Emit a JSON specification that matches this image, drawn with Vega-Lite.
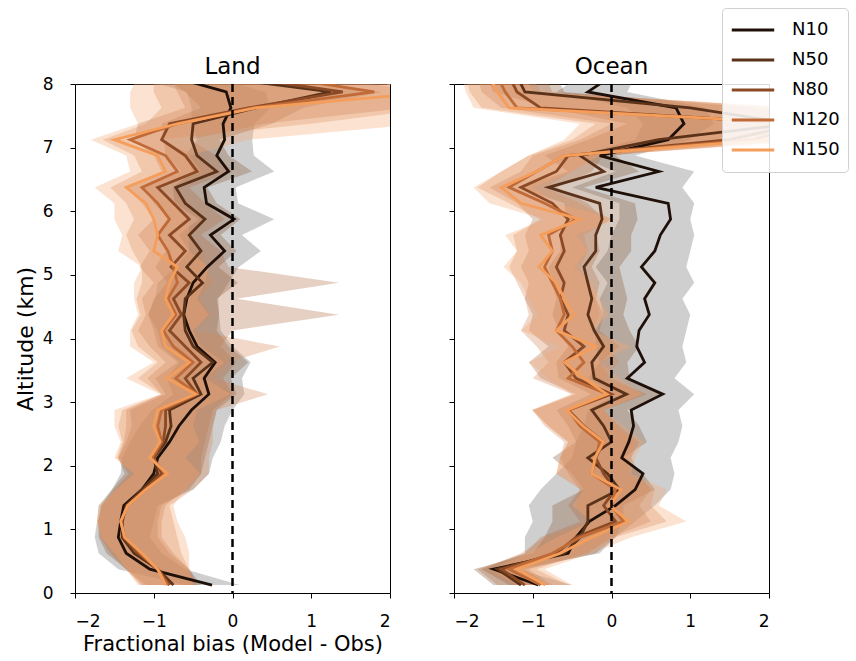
{
"$schema": "https://vega.github.io/schema/vega-lite/v6.json",
"padding": {"left": 13, "top": 7, "right": 5, "bottom": 5},
"config": {
  "font": "DejaVu Sans",
  "view": {"stroke": "black", "strokeWidth": 1},
  "axis": {"domain": false, "grid": false, "tickColor": "black", "tickSize": 5, "labelFontSize": 17, "labelColor": "black", "titleFontSize": 21, "titleFontWeight": "normal", "titleColor": "black", "labelPadding": 15, "format": "d"},
  "title": {"fontSize": 23, "fontWeight": "normal", "color": "black", "frame": "group"}
},
"datasets": {
"bias": [
{"panel":"Land","series":"N10","alt":0.125,"bias":-0.26,"lo":-0.61,"hi":0.09},
{"panel":"Land","series":"N10","alt":0.375,"bias":-1.05,"lo":-1.45,"hi":-0.60},
{"panel":"Land","series":"N10","alt":0.625,"bias":-1.35,"lo":-1.70,"hi":-0.90},
{"panel":"Land","series":"N10","alt":0.875,"bias":-1.45,"lo":-1.75,"hi":-1.05},
{"panel":"Land","series":"N10","alt":1.125,"bias":-1.42,"lo":-1.72,"hi":-1.00},
{"panel":"Land","series":"N10","alt":1.375,"bias":-1.38,"lo":-1.70,"hi":-0.95},
{"panel":"Land","series":"N10","alt":1.625,"bias":-1.15,"lo":-1.53,"hi":-0.50},
{"panel":"Land","series":"N10","alt":1.875,"bias":-1.00,"lo":-1.42,"hi":-0.30},
{"panel":"Land","series":"N10","alt":2.125,"bias":-0.95,"lo":-1.40,"hi":-0.25},
{"panel":"Land","series":"N10","alt":2.375,"bias":-0.80,"lo":-1.30,"hi":-0.15},
{"panel":"Land","series":"N10","alt":2.625,"bias":-0.68,"lo":-1.18,"hi":-0.10},
{"panel":"Land","series":"N10","alt":2.875,"bias":-0.52,"lo":-1.02,"hi":0.00},
{"panel":"Land","series":"N10","alt":3.125,"bias":-0.30,"lo":-0.75,"hi":0.15},
{"panel":"Land","series":"N10","alt":3.375,"bias":-0.36,"lo":-0.84,"hi":0.12},
{"panel":"Land","series":"N10","alt":3.625,"bias":-0.22,"lo":-0.67,"hi":0.23},
{"panel":"Land","series":"N10","alt":3.875,"bias":-0.45,"lo":-0.90,"hi":0.00},
{"panel":"Land","series":"N10","alt":4.125,"bias":-0.55,"lo":-0.95,"hi":-0.15},
{"panel":"Land","series":"N10","alt":4.375,"bias":-0.62,"lo":-1.07,"hi":-0.17},
{"panel":"Land","series":"N10","alt":4.625,"bias":-0.58,"lo":-0.98,"hi":-0.18},
{"panel":"Land","series":"N10","alt":4.875,"bias":-0.50,"lo":-0.95,"hi":-0.05},
{"panel":"Land","series":"N10","alt":5.125,"bias":-0.32,"lo":-0.72,"hi":0.08},
{"panel":"Land","series":"N10","alt":5.375,"bias":-0.10,"lo":-0.55,"hi":0.36},
{"panel":"Land","series":"N10","alt":5.625,"bias":-0.28,"lo":-0.68,"hi":0.12},
{"panel":"Land","series":"N10","alt":5.875,"bias":0.02,"lo":-0.43,"hi":0.53},
{"panel":"Land","series":"N10","alt":6.125,"bias":-0.33,"lo":-0.73,"hi":0.07},
{"panel":"Land","series":"N10","alt":6.375,"bias":-0.36,"lo":-0.76,"hi":0.04},
{"panel":"Land","series":"N10","alt":6.625,"bias":-0.05,"lo":-0.50,"hi":0.53},
{"panel":"Land","series":"N10","alt":6.875,"bias":-0.20,"lo":-0.60,"hi":0.27},
{"panel":"Land","series":"N10","alt":7.125,"bias":-0.10,"lo":-0.45,"hi":0.25},
{"panel":"Land","series":"N10","alt":7.375,"bias":-0.12,"lo":-0.52,"hi":0.28},
{"panel":"Land","series":"N10","alt":7.625,"bias":-0.02,"lo":-0.52,"hi":0.48},
{"panel":"Land","series":"N10","alt":7.875,"bias":-0.08,"lo":-0.58,"hi":0.42},
{"panel":"Land","series":"N10","alt":8.125,"bias":-0.80,"lo":-1.30,"hi":-0.30},
{"panel":"Land","series":"N50","alt":0.125,"bias":-0.75,"lo":-1.10,"hi":-0.40},
{"panel":"Land","series":"N50","alt":0.375,"bias":-0.95,"lo":-1.35,"hi":-0.55},
{"panel":"Land","series":"N50","alt":0.625,"bias":-1.25,"lo":-1.60,"hi":-0.80},
{"panel":"Land","series":"N50","alt":0.875,"bias":-1.40,"lo":-1.70,"hi":-0.95},
{"panel":"Land","series":"N50","alt":1.125,"bias":-1.40,"lo":-1.70,"hi":-0.95},
{"panel":"Land","series":"N50","alt":1.375,"bias":-1.35,"lo":-1.67,"hi":-0.90},
{"panel":"Land","series":"N50","alt":1.625,"bias":-1.15,"lo":-1.53,"hi":-0.55},
{"panel":"Land","series":"N50","alt":1.875,"bias":-0.95,"lo":-1.37,"hi":-0.40},
{"panel":"Land","series":"N50","alt":2.125,"bias":-1.00,"lo":-1.45,"hi":-0.35},
{"panel":"Land","series":"N50","alt":2.375,"bias":-0.85,"lo":-1.35,"hi":-0.30},
{"panel":"Land","series":"N50","alt":2.625,"bias":-0.78,"lo":-1.28,"hi":-0.25},
{"panel":"Land","series":"N50","alt":2.875,"bias":-0.80,"lo":-1.30,"hi":-0.20},
{"panel":"Land","series":"N50","alt":3.125,"bias":-0.40,"lo":-0.85,"hi":0.05},
{"panel":"Land","series":"N50","alt":3.375,"bias":-0.50,"lo":-0.98,"hi":-0.02},
{"panel":"Land","series":"N50","alt":3.625,"bias":-0.25,"lo":-0.70,"hi":0.20},
{"panel":"Land","series":"N50","alt":3.875,"bias":-0.50,"lo":-0.95,"hi":-0.05},
{"panel":"Land","series":"N50","alt":4.125,"bias":-0.60,"lo":-1.00,"hi":-0.20},
{"panel":"Land","series":"N50","alt":4.375,"bias":-0.62,"lo":-1.07,"hi":-0.17},
{"panel":"Land","series":"N50","alt":4.625,"bias":-0.60,"lo":-1.00,"hi":-0.20},
{"panel":"Land","series":"N50","alt":4.875,"bias":-0.38,"lo":-0.83,"hi":0.07},
{"panel":"Land","series":"N50","alt":5.125,"bias":-0.58,"lo":-0.98,"hi":-0.18},
{"panel":"Land","series":"N50","alt":5.375,"bias":-0.40,"lo":-0.85,"hi":0.05},
{"panel":"Land","series":"N50","alt":5.625,"bias":-0.55,"lo":-0.95,"hi":-0.15},
{"panel":"Land","series":"N50","alt":5.875,"bias":-0.35,"lo":-0.80,"hi":0.10},
{"panel":"Land","series":"N50","alt":6.125,"bias":-0.60,"lo":-1.00,"hi":-0.20},
{"panel":"Land","series":"N50","alt":6.375,"bias":-0.72,"lo":-1.12,"hi":-0.32},
{"panel":"Land","series":"N50","alt":6.625,"bias":-0.20,"lo":-0.65,"hi":0.25},
{"panel":"Land","series":"N50","alt":6.875,"bias":-0.45,"lo":-0.85,"hi":-0.05},
{"panel":"Land","series":"N50","alt":7.125,"bias":-0.52,"lo":-0.87,"hi":-0.17},
{"panel":"Land","series":"N50","alt":7.375,"bias":-0.50,"lo":-0.90,"hi":0.50},
{"panel":"Land","series":"N50","alt":7.625,"bias":0.30,"lo":-0.40,"hi":0.90},
{"panel":"Land","series":"N50","alt":7.875,"bias":1.25,"lo":-0.60,"hi":1.90},
{"panel":"Land","series":"N50","alt":8.125,"bias":-0.30,"lo":-0.90,"hi":0.30},
{"panel":"Land","series":"N80","alt":0.125,"bias":-0.80,"lo":-1.15,"hi":-0.45},
{"panel":"Land","series":"N80","alt":0.375,"bias":-0.95,"lo":-1.35,"hi":-0.55},
{"panel":"Land","series":"N80","alt":0.625,"bias":-1.20,"lo":-1.55,"hi":-0.75},
{"panel":"Land","series":"N80","alt":0.875,"bias":-1.38,"lo":-1.68,"hi":-0.90},
{"panel":"Land","series":"N80","alt":1.125,"bias":-1.41,"lo":-1.71,"hi":-0.90},
{"panel":"Land","series":"N80","alt":1.375,"bias":-1.34,"lo":-1.66,"hi":-0.85},
{"panel":"Land","series":"N80","alt":1.625,"bias":-1.12,"lo":-1.50,"hi":-0.60},
{"panel":"Land","series":"N80","alt":1.875,"bias":-0.90,"lo":-1.32,"hi":-0.40},
{"panel":"Land","series":"N80","alt":2.125,"bias":-1.00,"lo":-1.45,"hi":-0.40},
{"panel":"Land","series":"N80","alt":2.375,"bias":-0.88,"lo":-1.38,"hi":-0.35},
{"panel":"Land","series":"N80","alt":2.625,"bias":-0.85,"lo":-1.35,"hi":-0.30},
{"panel":"Land","series":"N80","alt":2.875,"bias":-0.85,"lo":-1.35,"hi":-0.25},
{"panel":"Land","series":"N80","alt":3.125,"bias":-0.45,"lo":-0.90,"hi":0.00},
{"panel":"Land","series":"N80","alt":3.375,"bias":-0.60,"lo":-1.08,"hi":-0.12},
{"panel":"Land","series":"N80","alt":3.625,"bias":-0.40,"lo":-0.85,"hi":0.05},
{"panel":"Land","series":"N80","alt":3.875,"bias":-0.60,"lo":-1.05,"hi":-0.15},
{"panel":"Land","series":"N80","alt":4.125,"bias":-0.80,"lo":-1.20,"hi":0.00},
{"panel":"Land","series":"N80","alt":4.375,"bias":-0.65,"lo":-1.10,"hi":1.35},
{"panel":"Land","series":"N80","alt":4.625,"bias":-0.75,"lo":-1.15,"hi":0.05},
{"panel":"Land","series":"N80","alt":4.875,"bias":-0.55,"lo":-1.00,"hi":1.35},
{"panel":"Land","series":"N80","alt":5.125,"bias":-0.78,"lo":-1.18,"hi":-0.05},
{"panel":"Land","series":"N80","alt":5.375,"bias":-0.60,"lo":-1.05,"hi":-0.15},
{"panel":"Land","series":"N80","alt":5.625,"bias":-0.80,"lo":-1.20,"hi":-0.40},
{"panel":"Land","series":"N80","alt":5.875,"bias":-0.55,"lo":-1.00,"hi":-0.10},
{"panel":"Land","series":"N80","alt":6.125,"bias":-0.75,"lo":-1.15,"hi":-0.35},
{"panel":"Land","series":"N80","alt":6.375,"bias":-0.95,"lo":-1.35,"hi":-0.55},
{"panel":"Land","series":"N80","alt":6.625,"bias":-0.45,"lo":-0.90,"hi":0.00},
{"panel":"Land","series":"N80","alt":6.875,"bias":-0.60,"lo":-1.00,"hi":-0.20},
{"panel":"Land","series":"N80","alt":7.125,"bias":-0.90,"lo":-1.25,"hi":-0.55},
{"panel":"Land","series":"N80","alt":7.375,"bias":-0.80,"lo":-1.20,"hi":0.40},
{"panel":"Land","series":"N80","alt":7.625,"bias":0.20,"lo":-0.60,"hi":2.20},
{"panel":"Land","series":"N80","alt":7.875,"bias":1.40,"lo":-0.70,"hi":2.50},
{"panel":"Land","series":"N80","alt":8.125,"bias":0.00,"lo":-0.80,"hi":1.00},
{"panel":"Land","series":"N120","alt":0.125,"bias":-0.82,"lo":-1.17,"hi":-0.47},
{"panel":"Land","series":"N120","alt":0.375,"bias":-0.95,"lo":-1.35,"hi":-0.55},
{"panel":"Land","series":"N120","alt":0.625,"bias":-1.17,"lo":-1.52,"hi":-0.65},
{"panel":"Land","series":"N120","alt":0.875,"bias":-1.37,"lo":-1.67,"hi":-0.70},
{"panel":"Land","series":"N120","alt":1.125,"bias":-1.42,"lo":-1.72,"hi":-0.75},
{"panel":"Land","series":"N120","alt":1.375,"bias":-1.33,"lo":-1.65,"hi":-0.80},
{"panel":"Land","series":"N120","alt":1.625,"bias":-1.10,"lo":-1.48,"hi":-0.50},
{"panel":"Land","series":"N120","alt":1.875,"bias":-0.85,"lo":-1.27,"hi":-0.30},
{"panel":"Land","series":"N120","alt":2.125,"bias":-1.02,"lo":-1.47,"hi":-0.30},
{"panel":"Land","series":"N120","alt":2.375,"bias":-0.90,"lo":-1.40,"hi":-0.25},
{"panel":"Land","series":"N120","alt":2.625,"bias":-0.95,"lo":-1.45,"hi":-0.25},
{"panel":"Land","series":"N120","alt":2.875,"bias":-0.90,"lo":-1.40,"hi":-0.20},
{"panel":"Land","series":"N120","alt":3.125,"bias":-0.45,"lo":-0.90,"hi":0.45},
{"panel":"Land","series":"N120","alt":3.375,"bias":-0.72,"lo":-1.20,"hi":-0.24},
{"panel":"Land","series":"N120","alt":3.625,"bias":-0.50,"lo":-0.95,"hi":-0.05},
{"panel":"Land","series":"N120","alt":3.875,"bias":-0.75,"lo":-1.20,"hi":0.60},
{"panel":"Land","series":"N120","alt":4.125,"bias":-0.88,"lo":-1.28,"hi":-0.48},
{"panel":"Land","series":"N120","alt":4.375,"bias":-0.72,"lo":-1.17,"hi":-0.27},
{"panel":"Land","series":"N120","alt":4.625,"bias":-0.82,"lo":-1.22,"hi":-0.42},
{"panel":"Land","series":"N120","alt":4.875,"bias":-0.70,"lo":-1.15,"hi":-0.25},
{"panel":"Land","series":"N120","alt":5.125,"bias":-0.75,"lo":-1.15,"hi":-0.35},
{"panel":"Land","series":"N120","alt":5.375,"bias":-0.82,"lo":-1.27,"hi":-0.37},
{"panel":"Land","series":"N120","alt":5.625,"bias":-0.95,"lo":-1.35,"hi":-0.55},
{"panel":"Land","series":"N120","alt":5.875,"bias":-0.80,"lo":-1.25,"hi":-0.35},
{"panel":"Land","series":"N120","alt":6.125,"bias":-0.95,"lo":-1.35,"hi":-0.55},
{"panel":"Land","series":"N120","alt":6.375,"bias":-1.15,"lo":-1.55,"hi":-0.75},
{"panel":"Land","series":"N120","alt":6.625,"bias":-0.70,"lo":-1.15,"hi":-0.25},
{"panel":"Land","series":"N120","alt":6.875,"bias":-0.85,"lo":-1.25,"hi":-0.45},
{"panel":"Land","series":"N120","alt":7.125,"bias":-1.30,"lo":-1.65,"hi":-0.95},
{"panel":"Land","series":"N120","alt":7.375,"bias":-0.70,"lo":-1.10,"hi":1.00},
{"panel":"Land","series":"N120","alt":7.625,"bias":0.25,"lo":-0.90,"hi":2.60},
{"panel":"Land","series":"N120","alt":7.875,"bias":1.80,"lo":-1.00,"hi":2.80},
{"panel":"Land","series":"N120","alt":8.125,"bias":0.50,"lo":-1.00,"hi":2.00},
{"panel":"Land","series":"N150","alt":0.125,"bias":-0.85,"lo":-1.20,"hi":-0.50},
{"panel":"Land","series":"N150","alt":0.375,"bias":-0.95,"lo":-1.35,"hi":-0.55},
{"panel":"Land","series":"N150","alt":0.625,"bias":-1.15,"lo":-1.50,"hi":-0.55},
{"panel":"Land","series":"N150","alt":0.875,"bias":-1.37,"lo":-1.67,"hi":-0.60},
{"panel":"Land","series":"N150","alt":1.125,"bias":-1.42,"lo":-1.72,"hi":-0.70},
{"panel":"Land","series":"N150","alt":1.375,"bias":-1.33,"lo":-1.70,"hi":-0.75},
{"panel":"Land","series":"N150","alt":1.625,"bias":-1.10,"lo":-1.48,"hi":-0.60},
{"panel":"Land","series":"N150","alt":1.875,"bias":-0.83,"lo":-1.25,"hi":-0.41},
{"panel":"Land","series":"N150","alt":2.125,"bias":-1.05,"lo":-1.50,"hi":-0.60},
{"panel":"Land","series":"N150","alt":2.375,"bias":-0.92,"lo":-1.42,"hi":-0.42},
{"panel":"Land","series":"N150","alt":2.625,"bias":-1.00,"lo":-1.50,"hi":-0.50},
{"panel":"Land","series":"N150","alt":2.875,"bias":-0.95,"lo":-1.50,"hi":-0.45},
{"panel":"Land","series":"N150","alt":3.125,"bias":-0.47,"lo":-0.92,"hi":-0.02},
{"panel":"Land","series":"N150","alt":3.375,"bias":-0.83,"lo":-1.35,"hi":-0.35},
{"panel":"Land","series":"N150","alt":3.625,"bias":-0.55,"lo":-1.00,"hi":-0.10},
{"panel":"Land","series":"N150","alt":3.875,"bias":-0.85,"lo":-1.30,"hi":-0.40},
{"panel":"Land","series":"N150","alt":4.125,"bias":-0.90,"lo":-1.30,"hi":-0.50},
{"panel":"Land","series":"N150","alt":4.375,"bias":-0.75,"lo":-1.20,"hi":-0.30},
{"panel":"Land","series":"N150","alt":4.625,"bias":-0.85,"lo":-1.25,"hi":-0.45},
{"panel":"Land","series":"N150","alt":4.875,"bias":-0.80,"lo":-1.25,"hi":-0.35},
{"panel":"Land","series":"N150","alt":5.125,"bias":-0.70,"lo":-1.15,"hi":-0.30},
{"panel":"Land","series":"N150","alt":5.375,"bias":-1.00,"lo":-1.45,"hi":-0.55},
{"panel":"Land","series":"N150","alt":5.625,"bias":-0.95,"lo":-1.40,"hi":-0.55},
{"panel":"Land","series":"N150","alt":5.875,"bias":-1.00,"lo":-1.50,"hi":-0.55},
{"panel":"Land","series":"N150","alt":6.125,"bias":-1.10,"lo":-1.50,"hi":-0.70},
{"panel":"Land","series":"N150","alt":6.375,"bias":-1.35,"lo":-1.75,"hi":-0.95},
{"panel":"Land","series":"N150","alt":6.625,"bias":-0.85,"lo":-1.30,"hi":-0.40},
{"panel":"Land","series":"N150","alt":6.875,"bias":-0.95,"lo":-1.35,"hi":-0.55},
{"panel":"Land","series":"N150","alt":7.125,"bias":-1.50,"lo":-1.80,"hi":0.20},
{"panel":"Land","series":"N150","alt":7.375,"bias":-0.70,"lo":-1.20,"hi":2.40},
{"panel":"Land","series":"N150","alt":7.625,"bias":0.30,"lo":-1.30,"hi":3.00},
{"panel":"Land","series":"N150","alt":7.875,"bias":2.60,"lo":-1.30,"hi":3.20},
{"panel":"Land","series":"N150","alt":8.125,"bias":1.50,"lo":-1.20,"hi":3.00},
{"panel":"Ocean","series":"N10","alt":0.125,"bias":-0.93,"lo":-1.30,"hi":-0.50},
{"panel":"Ocean","series":"N10","alt":0.375,"bias":-1.50,"lo":-1.65,"hi":-1.20},
{"panel":"Ocean","series":"N10","alt":0.625,"bias":-0.55,"lo":-1.10,"hi":-0.15},
{"panel":"Ocean","series":"N10","alt":0.875,"bias":-0.45,"lo":-1.10,"hi":0.05},
{"panel":"Ocean","series":"N10","alt":1.125,"bias":-0.28,"lo":-1.00,"hi":0.30},
{"panel":"Ocean","series":"N10","alt":1.375,"bias":0.05,"lo":-1.05,"hi":0.55},
{"panel":"Ocean","series":"N10","alt":1.625,"bias":0.30,"lo":-0.90,"hi":0.75},
{"panel":"Ocean","series":"N10","alt":1.875,"bias":0.40,"lo":-0.70,"hi":0.80},
{"panel":"Ocean","series":"N10","alt":2.125,"bias":0.13,"lo":-0.50,"hi":0.75},
{"panel":"Ocean","series":"N10","alt":2.375,"bias":0.22,"lo":-0.45,"hi":0.85},
{"panel":"Ocean","series":"N10","alt":2.625,"bias":0.28,"lo":-0.35,"hi":0.90},
{"panel":"Ocean","series":"N10","alt":2.875,"bias":0.25,"lo":-0.30,"hi":0.85},
{"panel":"Ocean","series":"N10","alt":3.125,"bias":0.65,"lo":0.05,"hi":1.05},
{"panel":"Ocean","series":"N10","alt":3.375,"bias":0.20,"lo":-0.30,"hi":0.80},
{"panel":"Ocean","series":"N10","alt":3.625,"bias":0.42,"lo":-0.15,"hi":0.95},
{"panel":"Ocean","series":"N10","alt":3.875,"bias":0.32,"lo":-0.20,"hi":0.90},
{"panel":"Ocean","series":"N10","alt":4.125,"bias":0.35,"lo":-0.20,"hi":0.95},
{"panel":"Ocean","series":"N10","alt":4.375,"bias":0.48,"lo":-0.10,"hi":1.00},
{"panel":"Ocean","series":"N10","alt":4.625,"bias":0.42,"lo":-0.15,"hi":0.90},
{"panel":"Ocean","series":"N10","alt":4.875,"bias":0.55,"lo":-0.05,"hi":1.05},
{"panel":"Ocean","series":"N10","alt":5.125,"bias":0.38,"lo":-0.20,"hi":0.95},
{"panel":"Ocean","series":"N10","alt":5.375,"bias":0.55,"lo":-0.05,"hi":1.00},
{"panel":"Ocean","series":"N10","alt":5.625,"bias":0.62,"lo":0.00,"hi":1.05},
{"panel":"Ocean","series":"N10","alt":5.875,"bias":0.75,"lo":0.10,"hi":1.00},
{"panel":"Ocean","series":"N10","alt":6.125,"bias":0.72,"lo":0.10,"hi":1.05},
{"panel":"Ocean","series":"N10","alt":6.375,"bias":-0.20,"lo":-0.50,"hi":0.90},
{"panel":"Ocean","series":"N10","alt":6.625,"bias":0.60,"lo":0.05,"hi":1.05},
{"panel":"Ocean","series":"N10","alt":6.875,"bias":-0.15,"lo":-0.45,"hi":0.30},
{"panel":"Ocean","series":"N10","alt":7.125,"bias":0.72,"lo":0.30,"hi":1.00},
{"panel":"Ocean","series":"N10","alt":7.375,"bias":0.92,"lo":0.40,"hi":1.30},
{"panel":"Ocean","series":"N10","alt":7.625,"bias":0.82,"lo":0.20,"hi":1.20},
{"panel":"Ocean","series":"N10","alt":7.875,"bias":-0.30,"lo":-0.70,"hi":0.20},
{"panel":"Ocean","series":"N10","alt":8.125,"bias":0.00,"lo":-0.40,"hi":0.30},
{"panel":"Ocean","series":"N50","alt":0.125,"bias":-1.15,"lo":-1.50,"hi":-0.80},
{"panel":"Ocean","series":"N50","alt":0.375,"bias":-1.45,"lo":-1.75,"hi":-1.10},
{"panel":"Ocean","series":"N50","alt":0.625,"bias":-0.60,"lo":-1.00,"hi":-0.20},
{"panel":"Ocean","series":"N50","alt":0.875,"bias":-0.40,"lo":-0.85,"hi":0.05},
{"panel":"Ocean","series":"N50","alt":1.125,"bias":-0.30,"lo":-0.75,"hi":0.15},
{"panel":"Ocean","series":"N50","alt":1.375,"bias":-0.30,"lo":-0.75,"hi":0.15},
{"panel":"Ocean","series":"N50","alt":1.625,"bias":0.10,"lo":-0.35,"hi":0.55},
{"panel":"Ocean","series":"N50","alt":1.875,"bias":-0.05,"lo":-0.50,"hi":0.40},
{"panel":"Ocean","series":"N50","alt":2.125,"bias":-0.30,"lo":-0.75,"hi":0.15},
{"panel":"Ocean","series":"N50","alt":2.375,"bias":0.00,"lo":-0.45,"hi":0.45},
{"panel":"Ocean","series":"N50","alt":2.625,"bias":-0.10,"lo":-0.55,"hi":0.35},
{"panel":"Ocean","series":"N50","alt":2.875,"bias":-0.25,"lo":-0.70,"hi":0.20},
{"panel":"Ocean","series":"N50","alt":3.125,"bias":0.19,"lo":-0.26,"hi":0.64},
{"panel":"Ocean","series":"N50","alt":3.375,"bias":-0.22,"lo":-0.67,"hi":0.23},
{"panel":"Ocean","series":"N50","alt":3.625,"bias":-0.25,"lo":-0.70,"hi":0.20},
{"panel":"Ocean","series":"N50","alt":3.875,"bias":-0.10,"lo":-0.55,"hi":0.35},
{"panel":"Ocean","series":"N50","alt":4.125,"bias":-0.22,"lo":-0.67,"hi":0.23},
{"panel":"Ocean","series":"N50","alt":4.375,"bias":-0.30,"lo":-0.75,"hi":0.15},
{"panel":"Ocean","series":"N50","alt":4.625,"bias":-0.25,"lo":-0.70,"hi":0.20},
{"panel":"Ocean","series":"N50","alt":4.875,"bias":-0.30,"lo":-0.75,"hi":0.15},
{"panel":"Ocean","series":"N50","alt":5.125,"bias":-0.35,"lo":-0.80,"hi":0.10},
{"panel":"Ocean","series":"N50","alt":5.375,"bias":-0.20,"lo":-0.65,"hi":0.25},
{"panel":"Ocean","series":"N50","alt":5.625,"bias":-0.20,"lo":-0.65,"hi":0.25},
{"panel":"Ocean","series":"N50","alt":5.875,"bias":-0.12,"lo":-0.57,"hi":0.33},
{"panel":"Ocean","series":"N50","alt":6.125,"bias":-0.15,"lo":-0.60,"hi":0.30},
{"panel":"Ocean","series":"N50","alt":6.375,"bias":-0.80,"lo":-1.20,"hi":-0.35},
{"panel":"Ocean","series":"N50","alt":6.625,"bias":-0.10,"lo":-0.55,"hi":0.35},
{"panel":"Ocean","series":"N50","alt":6.875,"bias":-0.40,"lo":-0.85,"hi":0.05},
{"panel":"Ocean","series":"N50","alt":7.125,"bias":0.60,"lo":-0.30,"hi":1.50},
{"panel":"Ocean","series":"N50","alt":7.375,"bias":2.30,"lo":0.20,"hi":3.00},
{"panel":"Ocean","series":"N50","alt":7.625,"bias":1.00,"lo":-0.80,"hi":1.80},
{"panel":"Ocean","series":"N50","alt":7.875,"bias":-1.10,"lo":-1.50,"hi":-0.60},
{"panel":"Ocean","series":"N50","alt":8.125,"bias":-1.20,"lo":-1.60,"hi":-0.70},
{"panel":"Ocean","series":"N80","alt":0.125,"bias":-1.10,"lo":-1.45,"hi":-0.75},
{"panel":"Ocean","series":"N80","alt":0.375,"bias":-1.40,"lo":-1.70,"hi":-1.05},
{"panel":"Ocean","series":"N80","alt":0.625,"bias":-0.70,"lo":-1.10,"hi":-0.30},
{"panel":"Ocean","series":"N80","alt":0.875,"bias":-0.45,"lo":-0.90,"hi":0.00},
{"panel":"Ocean","series":"N80","alt":1.125,"bias":0.05,"lo":-0.40,"hi":0.50},
{"panel":"Ocean","series":"N80","alt":1.375,"bias":-0.10,"lo":-0.55,"hi":0.35},
{"panel":"Ocean","series":"N80","alt":1.625,"bias":0.05,"lo":-0.40,"hi":0.50},
{"panel":"Ocean","series":"N80","alt":1.875,"bias":-0.10,"lo":-0.55,"hi":0.35},
{"panel":"Ocean","series":"N80","alt":2.125,"bias":-0.20,"lo":-0.65,"hi":0.25},
{"panel":"Ocean","series":"N80","alt":2.375,"bias":-0.10,"lo":-0.55,"hi":0.35},
{"panel":"Ocean","series":"N80","alt":2.625,"bias":-0.35,"lo":-0.80,"hi":0.10},
{"panel":"Ocean","series":"N80","alt":2.875,"bias":-0.55,"lo":-1.00,"hi":-0.10},
{"panel":"Ocean","series":"N80","alt":3.125,"bias":0.00,"lo":-0.45,"hi":0.45},
{"panel":"Ocean","series":"N80","alt":3.375,"bias":-0.45,"lo":-0.90,"hi":0.00},
{"panel":"Ocean","series":"N80","alt":3.625,"bias":-0.60,"lo":-1.05,"hi":-0.15},
{"panel":"Ocean","series":"N80","alt":3.875,"bias":-0.35,"lo":-0.80,"hi":0.10},
{"panel":"Ocean","series":"N80","alt":4.125,"bias":-0.60,"lo":-1.05,"hi":-0.15},
{"panel":"Ocean","series":"N80","alt":4.375,"bias":-0.55,"lo":-1.00,"hi":-0.10},
{"panel":"Ocean","series":"N80","alt":4.625,"bias":-0.65,"lo":-1.10,"hi":-0.20},
{"panel":"Ocean","series":"N80","alt":4.875,"bias":-0.60,"lo":-1.05,"hi":-0.15},
{"panel":"Ocean","series":"N80","alt":5.125,"bias":-0.70,"lo":-1.15,"hi":-0.25},
{"panel":"Ocean","series":"N80","alt":5.375,"bias":-0.60,"lo":-1.05,"hi":-0.15},
{"panel":"Ocean","series":"N80","alt":5.625,"bias":-0.65,"lo":-1.10,"hi":-0.20},
{"panel":"Ocean","series":"N80","alt":5.875,"bias":-0.55,"lo":-1.00,"hi":-0.10},
{"panel":"Ocean","series":"N80","alt":6.125,"bias":-0.75,"lo":-1.20,"hi":-0.30},
{"panel":"Ocean","series":"N80","alt":6.375,"bias":-1.15,"lo":-1.55,"hi":-0.70},
{"panel":"Ocean","series":"N80","alt":6.625,"bias":-0.70,"lo":-1.15,"hi":-0.25},
{"panel":"Ocean","series":"N80","alt":6.875,"bias":-0.55,"lo":-1.00,"hi":-0.10},
{"panel":"Ocean","series":"N80","alt":7.125,"bias":1.50,"lo":-0.40,"hi":2.50},
{"panel":"Ocean","series":"N80","alt":7.375,"bias":2.40,"lo":0.00,"hi":3.00},
{"panel":"Ocean","series":"N80","alt":7.625,"bias":-0.90,"lo":-1.40,"hi":2.20},
{"panel":"Ocean","series":"N80","alt":7.875,"bias":-1.20,"lo":-1.65,"hi":-0.75},
{"panel":"Ocean","series":"N80","alt":8.125,"bias":-1.30,"lo":-1.70,"hi":-0.85},
{"panel":"Ocean","series":"N120","alt":0.125,"bias":-0.90,"lo":-1.25,"hi":-0.55},
{"panel":"Ocean","series":"N120","alt":0.375,"bias":-1.30,"lo":-1.65,"hi":-0.95},
{"panel":"Ocean","series":"N120","alt":0.625,"bias":-0.75,"lo":-1.15,"hi":-0.35},
{"panel":"Ocean","series":"N120","alt":0.875,"bias":-0.40,"lo":-0.85,"hi":0.05},
{"panel":"Ocean","series":"N120","alt":1.125,"bias":0.15,"lo":-0.30,"hi":0.70},
{"panel":"Ocean","series":"N120","alt":1.375,"bias":0.00,"lo":-0.45,"hi":0.50},
{"panel":"Ocean","series":"N120","alt":1.625,"bias":0.05,"lo":-0.40,"hi":0.55},
{"panel":"Ocean","series":"N120","alt":1.875,"bias":-0.25,"lo":-0.70,"hi":0.20},
{"panel":"Ocean","series":"N120","alt":2.125,"bias":-0.20,"lo":-0.65,"hi":0.25},
{"panel":"Ocean","series":"N120","alt":2.375,"bias":-0.15,"lo":-0.60,"hi":0.30},
{"panel":"Ocean","series":"N120","alt":2.625,"bias":-0.40,"lo":-0.85,"hi":0.05},
{"panel":"Ocean","series":"N120","alt":2.875,"bias":-0.55,"lo":-1.00,"hi":-0.10},
{"panel":"Ocean","series":"N120","alt":3.125,"bias":-0.05,"lo":-0.50,"hi":0.40},
{"panel":"Ocean","series":"N120","alt":3.375,"bias":-0.55,"lo":-1.00,"hi":-0.10},
{"panel":"Ocean","series":"N120","alt":3.625,"bias":-0.35,"lo":-0.80,"hi":0.10},
{"panel":"Ocean","series":"N120","alt":3.875,"bias":-0.50,"lo":-0.95,"hi":-0.05},
{"panel":"Ocean","series":"N120","alt":4.125,"bias":-0.70,"lo":-1.15,"hi":-0.25},
{"panel":"Ocean","series":"N120","alt":4.375,"bias":-0.60,"lo":-1.05,"hi":-0.15},
{"panel":"Ocean","series":"N120","alt":4.625,"bias":-0.65,"lo":-1.10,"hi":-0.20},
{"panel":"Ocean","series":"N120","alt":4.875,"bias":-0.75,"lo":-1.20,"hi":-0.30},
{"panel":"Ocean","series":"N120","alt":5.125,"bias":-0.85,"lo":-1.30,"hi":-0.40},
{"panel":"Ocean","series":"N120","alt":5.375,"bias":-0.75,"lo":-1.20,"hi":-0.30},
{"panel":"Ocean","series":"N120","alt":5.625,"bias":-0.80,"lo":-1.25,"hi":-0.35},
{"panel":"Ocean","series":"N120","alt":5.875,"bias":-0.45,"lo":-0.90,"hi":0.00},
{"panel":"Ocean","series":"N120","alt":6.125,"bias":-0.85,"lo":-1.30,"hi":-0.40},
{"panel":"Ocean","series":"N120","alt":6.375,"bias":-1.30,"lo":-1.70,"hi":-0.85},
{"panel":"Ocean","series":"N120","alt":6.625,"bias":-0.95,"lo":-1.40,"hi":-0.50},
{"panel":"Ocean","series":"N120","alt":6.875,"bias":-0.60,"lo":-1.05,"hi":-0.15},
{"panel":"Ocean","series":"N120","alt":7.125,"bias":1.80,"lo":-0.50,"hi":2.60},
{"panel":"Ocean","series":"N120","alt":7.375,"bias":2.50,"lo":-0.20,"hi":3.00},
{"panel":"Ocean","series":"N120","alt":7.625,"bias":-1.20,"lo":-1.65,"hi":2.30},
{"panel":"Ocean","series":"N120","alt":7.875,"bias":-1.35,"lo":-1.80,"hi":-0.90},
{"panel":"Ocean","series":"N120","alt":8.125,"bias":-1.45,"lo":-1.85,"hi":-1.00},
{"panel":"Ocean","series":"N150","alt":0.125,"bias":-0.84,"lo":-1.20,"hi":-0.50},
{"panel":"Ocean","series":"N150","alt":0.375,"bias":-1.20,"lo":-1.55,"hi":-0.85},
{"panel":"Ocean","series":"N150","alt":0.625,"bias":-0.65,"lo":-1.05,"hi":-0.25},
{"panel":"Ocean","series":"N150","alt":0.875,"bias":-0.25,"lo":-0.70,"hi":0.25},
{"panel":"Ocean","series":"N150","alt":1.125,"bias":0.22,"lo":-0.25,"hi":0.95},
{"panel":"Ocean","series":"N150","alt":1.375,"bias":-0.02,"lo":-0.50,"hi":0.60},
{"panel":"Ocean","series":"N150","alt":1.625,"bias":0.12,"lo":-0.35,"hi":0.70},
{"panel":"Ocean","series":"N150","alt":1.875,"bias":-0.25,"lo":-0.70,"hi":0.25},
{"panel":"Ocean","series":"N150","alt":2.125,"bias":-0.21,"lo":-0.66,"hi":0.30},
{"panel":"Ocean","series":"N150","alt":2.375,"bias":-0.10,"lo":-0.55,"hi":0.40},
{"panel":"Ocean","series":"N150","alt":2.625,"bias":-0.36,"lo":-0.81,"hi":0.15},
{"panel":"Ocean","series":"N150","alt":2.875,"bias":-0.57,"lo":-1.02,"hi":-0.10},
{"panel":"Ocean","series":"N150","alt":3.125,"bias":-0.06,"lo":-0.51,"hi":0.40},
{"panel":"Ocean","series":"N150","alt":3.375,"bias":-0.35,"lo":-0.80,"hi":0.10},
{"panel":"Ocean","series":"N150","alt":3.625,"bias":-0.60,"lo":-1.05,"hi":-0.15},
{"panel":"Ocean","series":"N150","alt":3.875,"bias":-0.20,"lo":-0.65,"hi":0.25},
{"panel":"Ocean","series":"N150","alt":4.125,"bias":-0.70,"lo":-1.15,"hi":-0.25},
{"panel":"Ocean","series":"N150","alt":4.375,"bias":-0.48,"lo":-0.93,"hi":-0.03},
{"panel":"Ocean","series":"N150","alt":4.625,"bias":-0.60,"lo":-1.05,"hi":-0.15},
{"panel":"Ocean","series":"N150","alt":4.875,"bias":-0.70,"lo":-1.15,"hi":-0.25},
{"panel":"Ocean","series":"N150","alt":5.125,"bias":-0.92,"lo":-1.37,"hi":-0.47},
{"panel":"Ocean","series":"N150","alt":5.375,"bias":-0.75,"lo":-1.20,"hi":-0.30},
{"panel":"Ocean","series":"N150","alt":5.625,"bias":-0.90,"lo":-1.35,"hi":-0.45},
{"panel":"Ocean","series":"N150","alt":5.875,"bias":-0.40,"lo":-0.85,"hi":0.05},
{"panel":"Ocean","series":"N150","alt":6.125,"bias":-1.15,"lo":-1.55,"hi":-0.70},
{"panel":"Ocean","series":"N150","alt":6.375,"bias":-1.40,"lo":-1.75,"hi":-1.00},
{"panel":"Ocean","series":"N150","alt":6.625,"bias":-0.95,"lo":-1.40,"hi":-0.50},
{"panel":"Ocean","series":"N150","alt":6.875,"bias":-0.60,"lo":-1.05,"hi":-0.15},
{"panel":"Ocean","series":"N150","alt":7.125,"bias":2.00,"lo":-0.60,"hi":2.80},
{"panel":"Ocean","series":"N150","alt":7.375,"bias":2.60,"lo":-0.40,"hi":3.00},
{"panel":"Ocean","series":"N150","alt":7.625,"bias":-1.30,"lo":-1.75,"hi":2.50},
{"panel":"Ocean","series":"N150","alt":7.875,"bias":-1.45,"lo":-1.85,"hi":-1.00},
{"panel":"Ocean","series":"N150","alt":8.125,"bias":-1.55,"lo":-1.90,"hi":-1.10}
],
"zero": [{"x0": 0}]
},
"spacing": 64,
"bounds": "flush",
"hconcat": [
{
  "width": 315, "height": 509,
  "title": {"text": "Land", "offset": -4},
  "layer": [
    {"data": {"name": "bias"}, "transform": [{"filter": "datum.panel === 'Land'"}],
     "mark": {"type": "area", "orient": "horizontal", "clip": true, "fillOpacity": 0.33},
     "encoding": {
       "y": {"field": "alt", "type": "quantitative", "scale": {"domain": [0, 8], "nice": false}, "axis": {"values": [0,1,2,3,4,5,6,7,8], "title": "Altitude (km)", "titlePadding": 5, "titleFontSize": 22, "labelPadding": 17}},
       "x": {"field": "lo", "type": "quantitative", "scale": {"domain": [-2, 2], "nice": false}, "axis": {"values": [-2,-1,0,1,2], "title": "Fractional bias (Model - Obs)", "titlePadding": 4}},
       "x2": {"field": "hi"},
       "fill": {"field": "series", "type": "nominal", "scale": {"domain": ["N150","N120","N80","N50","N10"], "range": ["#f5a870","#d48a5a","#b07048","#8a5a3c","#6e6e6e"]}, "legend": null}
     }},
    {"data": {"name": "bias"}, "transform": [{"filter": "datum.panel === 'Land'"}],
     "mark": {"type": "line", "clip": true, "strokeWidth": 2.8},
     "encoding": {
       "y": {"field": "alt", "type": "quantitative", "axis": {"values": [0,1,2,3,4,5,6,7,8], "title": "Altitude (km)", "titlePadding": 5, "titleFontSize": 22, "labelPadding": 17}},
       "x": {"field": "bias", "type": "quantitative", "axis": {"values": [-2,-1,0,1,2], "title": "Fractional bias (Model - Obs)", "titlePadding": 4}},
       "order": {"field": "alt", "type": "quantitative"},
       "stroke": {"field": "series", "type": "nominal", "scale": {"domain": ["N10","N50","N80","N120","N150"], "range": ["#1e1008","#5a3219","#8b4a25","#c06a38","#f59e5b"]},
         "legend": {"orient": "none", "legendX": 647, "legendY": -76, "title": null, "symbolType": "stroke", "symbolSize": 1800, "symbolStrokeWidth": 3, "labelFontSize": 18, "labelOffset": 16, "padding": 8, "clipHeight": 28, "rowPadding": 2, "fillColor": "rgba(255,255,255,0.85)", "strokeColor": "#d0d0d0", "cornerRadius": 4}}
     }},
    {"data": {"name": "zero"},
     "mark": {"type": "rule", "color": "black", "strokeWidth": 2.5, "strokeDash": [8, 5]},
     "encoding": {"x": {"field": "x0", "type": "quantitative"}}}
  ]
},
{
  "width": 315, "height": 509,
  "title": {"text": "Ocean", "offset": 4},
  "layer": [
    {"data": {"name": "bias"}, "transform": [{"filter": "datum.panel === 'Ocean'"}],
     "mark": {"type": "area", "orient": "horizontal", "clip": true, "fillOpacity": 0.33},
     "encoding": {
       "y": {"field": "alt", "type": "quantitative", "scale": {"domain": [0, 8], "nice": false}, "axis": {"values": [0,1,2,3,4,5,6,7,8], "labels": false, "title": null}},
       "x": {"field": "lo", "type": "quantitative", "scale": {"domain": [-2, 2], "nice": false}, "axis": {"values": [-2,-1,0,1,2], "title": null}},
       "x2": {"field": "hi"},
       "fill": {"field": "series", "type": "nominal", "scale": {"domain": ["N150","N120","N80","N50","N10"], "range": ["#f5a870","#d48a5a","#b07048","#8a5a3c","#6e6e6e"]}, "legend": null}
     }},
    {"data": {"name": "bias"}, "transform": [{"filter": "datum.panel === 'Ocean'"}],
     "mark": {"type": "line", "clip": true, "strokeWidth": 2.8},
     "encoding": {
       "y": {"field": "alt", "type": "quantitative", "axis": {"values": [0,1,2,3,4,5,6,7,8], "labels": false, "title": null}},
       "x": {"field": "bias", "type": "quantitative", "axis": {"values": [-2,-1,0,1,2], "title": null}},
       "order": {"field": "alt", "type": "quantitative"},
       "stroke": {"field": "series", "type": "nominal", "scale": {"domain": ["N10","N50","N80","N120","N150"], "range": ["#1e1008","#5a3219","#8b4a25","#c06a38","#f59e5b"]},
         "legend": {"orient": "none", "legendX": 647, "legendY": -76, "title": null, "symbolType": "stroke", "symbolSize": 1800, "symbolStrokeWidth": 3, "labelFontSize": 18, "labelOffset": 16, "padding": 8, "clipHeight": 28, "rowPadding": 2, "fillColor": "rgba(255,255,255,0.85)", "strokeColor": "#d0d0d0", "cornerRadius": 4}}
     }},
    {"data": {"name": "zero"},
     "mark": {"type": "rule", "color": "black", "strokeWidth": 2.5, "strokeDash": [8, 5]},
     "encoding": {"x": {"field": "x0", "type": "quantitative"}}}
  ]
}
]
}
